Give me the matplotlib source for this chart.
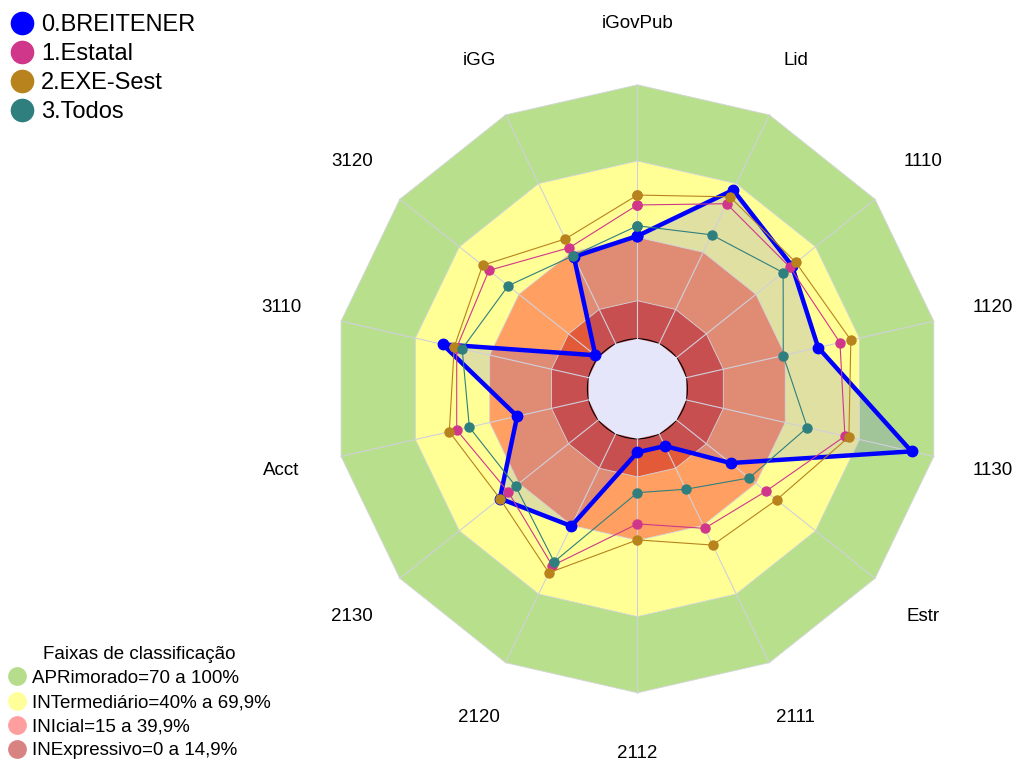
import numpy as np
import matplotlib
matplotlib.use('Agg')
import matplotlib.pyplot as plt
from matplotlib.lines import Line2D

plt.rcParams['font.family'] = ['Liberation Sans', 'DejaVu Sans']

# --- DATA ---
axes_labels = ['iGovPub', 'Lid', '1110', '1120', '1130', 'Estr', '2111',
               '2112', '2120', '2130', 'Acct', '3110', '3120', 'iGG']

breitener = [40.5, 67.2, 58.1, 53.3, 91.0, 27.2, 5.3, 5.3, 40.3, 49.6, 28.9, 59.0, 1.5, 38.0]
estatal   = [52.7, 61.2, 57.1, 62.1, 64.1, 45.0, 41.3, 33.5, 57.6, 45.4, 53.3, 53.3, 55.1, 42.0]
exe_sest  = [56.6, 64.2, 60.1, 66.5, 65.7, 50.4, 48.6, 39.8, 60.7, 49.6, 56.3, 54.3, 58.3, 45.8]
todos     = [44.5, 47.6, 53.7, 39.2, 48.9, 36.6, 24.2, 21.2, 55.9, 41.7, 48.2, 51.1, 45.4, 38.5]

series_names = ['0.BREITENER', '1.Estatal', '2.EXE-Sest', '3.Todos']
series_colors = ['#0000ff', '#d0378a', '#b8821c', '#2f7f7f']

# classification bands (upper limits)
band_limits = [100, 70, 40, 15]
band_colors = ['#b8e08c', '#ffff96', '#ffa062', '#e35a38']
band_labels = ['APRimorado=70 a 100%', 'INTermediário=40% a 69,9%',
               'INIcial=15 a 39,9%', 'INExpressivo=0 a 14,9%']
band_legend_colors = ['#b6dd8b', '#ffff99', '#ff9e9e', '#d98282']

# --- PLOT ---
n = len(axes_labels)
theta = np.arange(n) * 2 * np.pi / n
theta_c = np.append(theta, theta[0])

def closed(v):
    return np.append(v, v[0])

fig = plt.figure(figsize=(10.16, 7.62), dpi=100)
ax = fig.add_axes([0.3282, 0.0908, 0.5984, 0.7979], projection='polar')
ax.set_theta_zero_location('N')
ax.set_theta_direction(-1)
ax.set_ylim(0, 100)
ax.set_rorigin(-19.685)
ax.grid(False)
ax.set_xticks([])
ax.set_yticks([])
for sp in ax.spines.values():
    sp.set_visible(False)
ax.patch.set_visible(False)

# bands, outer to inner
for lim, col in zip(band_limits, band_colors):
    ax.fill(theta_c, np.full(n + 1, lim), color=col, zorder=1, lw=0, clip_on=False)
    ax.plot(theta_c, np.full(n + 1, lim), color='#d4d4dc', lw=0.6, zorder=3, clip_on=False)

# BREITENER area fill
ax.fill(theta_c, closed(breitener), color='#0000ff', alpha=0.12, lw=0, zorder=2,
        clip_on=False)

# spokes
for t in theta:
    ax.plot([t, t], [0, 100], color='#d0d0dc', lw=0.8, zorder=3, clip_on=False)

# center hole
ax.fill(theta_c, np.zeros(n + 1), color='#e6e6fa', lw=0, zorder=4, clip_on=False)

# series
all_series = [breitener, estatal, exe_sest, todos]
for i, (vals, col) in enumerate(zip(all_series, series_colors)):
    if i == 0:
        ax.plot(theta_c, closed(vals), color=col, lw=3.2, marker='o',
                markersize=7.5, zorder=5, clip_on=False)
    else:
        ax.plot(theta_c, closed(vals), color=col, lw=0.8, marker='o',
                markersize=6.5, zorder=5 + i, clip_on=False)

# axis labels
for t, lab in zip(theta, axes_labels):
    ax.text(t, 124, lab, ha='center', va='center', fontsize=13.5)

# series legend
handles = [Line2D([], [], ls='', marker='o', markersize=16, color=c)
           for c in series_colors]
fig.legend(handles, series_names, loc='upper left', bbox_to_anchor=(0.0, 0.994),
           frameon=False, fontsize=17, handletextpad=0.25, labelspacing=0.3,
           borderaxespad=0.2, handlelength=1.1, borderpad=0.2)

# bands legend
bhandles = [Line2D([], [], ls='', marker='o', markersize=12.5, color=c)
            for c in band_legend_colors]
fig.legend(bhandles, band_labels, loc='lower left', bbox_to_anchor=(0.005, 0.0),
           frameon=False, fontsize=13.5, title='Faixas de classificação',
           title_fontsize=13.5, handletextpad=0.3, labelspacing=0.37,
           borderaxespad=0.0, handlelength=1.0, borderpad=0.15)

fig.savefig('out.png', dpi=100)
